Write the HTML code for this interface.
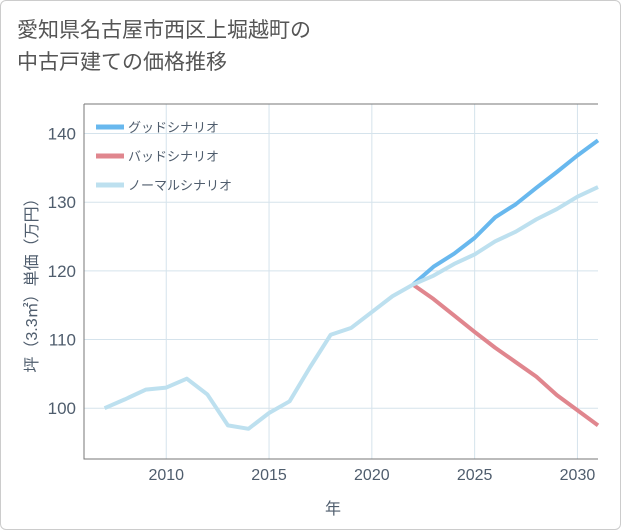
<!DOCTYPE html>
<html><head><meta charset="utf-8"><style>
body{margin:0;background:#fff;}
#wrap{position:relative;width:621px;height:530px;background:#fff;box-sizing:border-box;border:1px solid #ccc;border-radius:6px;overflow:hidden;font-family:"Liberation Sans","Noto Sans CJK JP",sans-serif;}
#title{position:absolute;left:16px;top:14px;font-size:21px;line-height:32px;color:#555;}
</style></head><body>
<div id="wrap">
<div id="title">愛知県名古屋市西区上堀越町の<br>中古戸建ての価格推移</div>
<svg id="chart" width="621" height="530" style="position:absolute;left:0;top:0"></svg>
</div>
<script>
const years=[2007,2008,2009,2010,2011,2012,2013,2014,2015,2016,2017,2018,2019,2020,2021,2022,2023,2024,2025,2026,2027,2028,2029,2030,2031];
const normalVals=[100,101.3,102.7,103,104.3,102,97.5,97,99.3,101,106,110.7,111.7,114,116.3,118,119.3,121,122.4,124.3,125.7,127.5,129,130.8,132.2];
const futureYears=[2022,2023,2024,2025,2026,2027,2028,2029,2030,2031];
const goodVals=[118,120.6,122.5,124.8,127.8,129.7,132.1,134.4,136.8,139];
const badVals=[118,115.9,113.5,111.1,108.8,106.7,104.6,101.9,99.7,97.5];
const xTicks=[2010,2015,2020,2025,2030];
const yTicks=[100,110,120,130,140];
const L=83,R=597,T=103,B=458,X0=2006,X1=2031,Y0=92.6,Y1=144.3;
const TXT='#4f5d6d';
const sx=v=>L+(v-X0)/(X1-X0)*(R-L);
const sy=v=>B-(v-Y0)/(Y1-Y0)*(B-T);
const svg=document.getElementById('chart');const NS='http://www.w3.org/2000/svg';
function mk(t,a,p){const e=document.createElementNS(NS,t);for(const k in a)e.setAttribute(k,a[k]);(p||svg).appendChild(e);return e;}
xTicks.forEach(v=>{const l=mk('line',{x1:sx(v),x2:sx(v),y1:T,y2:B,stroke:'#d5e3ec','stroke-width':1});


const t=mk('text',{x:sx(v),y:479,'text-anchor':'middle','font-size':16,fill:TXT});t.textContent=v;

});
yTicks.forEach(v=>{const l=mk('line',{x1:L,x2:R,y1:sy(v),y2:sy(v),stroke:'#d5e3ec','stroke-width':1});


const t=mk('text',{x:L-8,y:sy(v)+6,'text-anchor':'end','font-size':17,fill:TXT});t.textContent=v;

});
const ax=mk('path',{d:`M${L},${T}H${R}M${L},${T}V${B}H${R}`,stroke:'#777',fill:'none','stroke-width':1});


function line(xs,ys,c,name){const p=mk('polyline',{points:xs.map((x,i)=>sx(x)+','+sy(ys[i])).join(' '),fill:'none',stroke:c,'stroke-width':4,'stroke-linejoin':'round'});

}
line(futureYears,badVals,'#e0868e','bad-scenario-line');
line(futureYears,goodVals,'#68b8ee','good-scenario-line');
line(years,normalVals,'#bde0ef','normal-scenario-line');
[['グッドシナリオ','#68b8ee','legend-good'],['バッドシナリオ','#e0868e','legend-bad'],['ノーマルシナリオ','#bde0ef','legend-normal']].forEach((d,i)=>{const y=126+i*29;
const g=mk('g',{});


mk('line',{x1:95,x2:123,y1:y,y2:y,stroke:d[1],'stroke-width':5},g);
const t=mk('text',{x:127,y:y+5,'font-size':13,fill:TXT},g);t.textContent=d[0];});
const xt=mk('text',{x:332,y:513,'text-anchor':'middle','font-size':16,fill:TXT});xt.textContent='年';


const yt=mk('text',{x:0,y:0,'text-anchor':'middle','font-size':16,fill:TXT,transform:`translate(36,${(T+B)/2}) rotate(-90)`});yt.textContent='坪（3.3㎡）単価（万円）';


</script>
</body></html>
